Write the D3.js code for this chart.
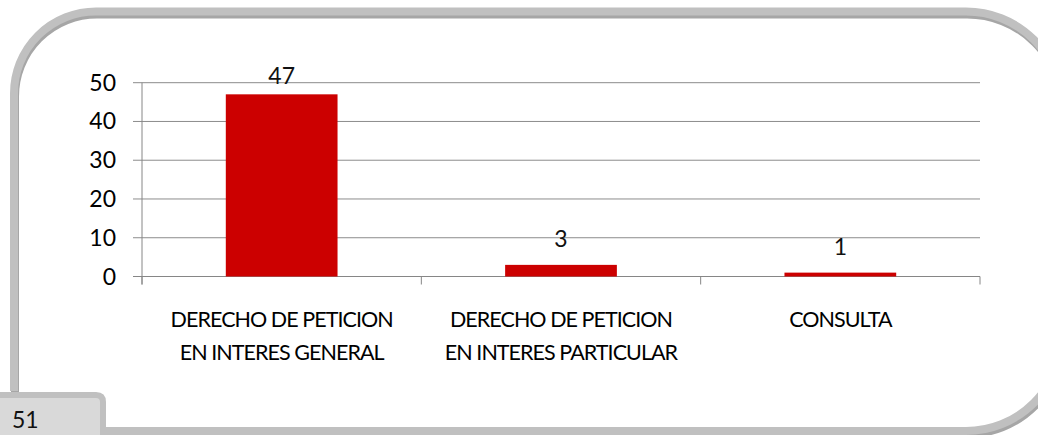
<!DOCTYPE html>
<html><head><meta charset="utf-8">
<script src="https://cdn.jsdelivr.net/npm/d3@7"></script>
<style>
html,body{margin:0;padding:0;background:#fff;overflow:hidden;}
svg{display:block;font-family:Lato,sans-serif;}
</style></head>
<body>
<svg id="c" width="1038" height="435"></svg>
<script>
const categories = [["DERECHO DE PETICION","EN INTERES GENERAL"],["DERECHO DE PETICION","EN INTERES PARTICULAR"],["CONSULTA"]];
const values = [47, 3, 1];
const yTicks = [0, 10, 20, 30, 40, 50];
const pageNumber = "51";

(function () {
const svg = d3.select("#c");

function framePath(dx, dy) {
  const p = d3.path();
  const l = 14 + dx, t = 11.5 + dy, r = 1062 + dx, b = 431 + dy, R1 = 82, R2 = 96;
  p.moveTo(l, b - 40);
  p.lineTo(l, t + R1);
  p.arcTo(l, t, l + R1, t, R1);
  p.lineTo(r - R2, t);
  p.arcTo(r, t, r, t + R2, R2);
  p.lineTo(r, b - R2);
  p.arcTo(r, b, r - R2, b, R2);
  p.lineTo(60, b);
  return p.toString();
}
svg.append("path").attr("d", framePath(1, 3)).attr("fill", "none").attr("stroke", "#a6a6a6").attr("stroke-width", 8);
svg.append("path").attr("d", framePath(0, 0)).attr("fill", "none").attr("stroke", "#c0c0c0").attr("stroke-width", 8);

svg.append("path")
  .attr("d", "M-10,395 L96,395 Q103,395 103,402 L103,445 L-10,445 Z")
  .attr("fill", "#d9d9d9").attr("stroke", "#c0c0c0").attr("stroke-width", 6);
svg.append("text").attr("x", 12).attr("y", 428).attr("font-size", 23).attr("fill", "#111").text(pageNumber);

const pL = 142, pR = 980, pT = 82.7, pB = 276.5;
const x = d3.scaleBand().domain(d3.range(values.length)).range([pL, pR]).paddingInner(0.6).paddingOuter(0.3);
const xb = d3.scaleBand().domain(d3.range(values.length)).range([pL, pR]);
const y = d3.scaleLinear().domain([0, 50]).range([pB, pT]);

const g = svg.append("g");
g.selectAll(".grid").data(yTicks).join("line")
  .attr("x1", pL - 9).attr("x2", pR)
  .attr("y1", d => y(d)).attr("y2", d => y(d))
  .attr("stroke", d => d === 0 ? "#868686" : "#8c8c8c").attr("stroke-width", 1);
g.append("line").attr("x1", pL).attr("x2", pL).attr("y1", pT).attr("y2", pB + 8).attr("stroke", "#868686");
g.selectAll(".ct").data(d3.range(values.length + 1)).join("line")
  .attr("x1", i => i < values.length ? xb(i) : pR).attr("x2", i => i < values.length ? xb(i) : pR)
  .attr("y1", pB).attr("y2", pB + 8).attr("stroke", "#868686");
g.selectAll(".yl").data(yTicks).join("text")
  .attr("x", pL - 26).attr("y", d => y(d) + 8).attr("text-anchor", "end")
  .attr("font-size", 23).attr("fill", "#000").text(d => d);

g.selectAll(".bar").data(values).join("rect")
  .attr("x", (d, i) => x(i)).attr("width", x.bandwidth())
  .attr("y", d => y(d)).attr("height", d => pB - y(d))
  .attr("fill", "#cc0000");
g.selectAll(".dl").data(values).join("text")
  .attr("x", (d, i) => x(i) + x.bandwidth() / 2)
  .attr("y", d => Math.max(y(d) - 18, pT + 1))
  .attr("text-anchor", "middle").attr("font-size", 23).attr("fill", "#111").text(d => d);

categories.forEach((lines, i) => {
  const t = g.append("text").attr("text-anchor", "middle").attr("font-size", 21.5)
    .attr("letter-spacing", -0.95).attr("fill", "#000");
  lines.forEach((ln, k) => {
    t.append("tspan").attr("x", xb(i) + xb.bandwidth() / 2).attr("y", 327 + k * 33).text(ln);
  });
});
})();
</script>
</body></html>
